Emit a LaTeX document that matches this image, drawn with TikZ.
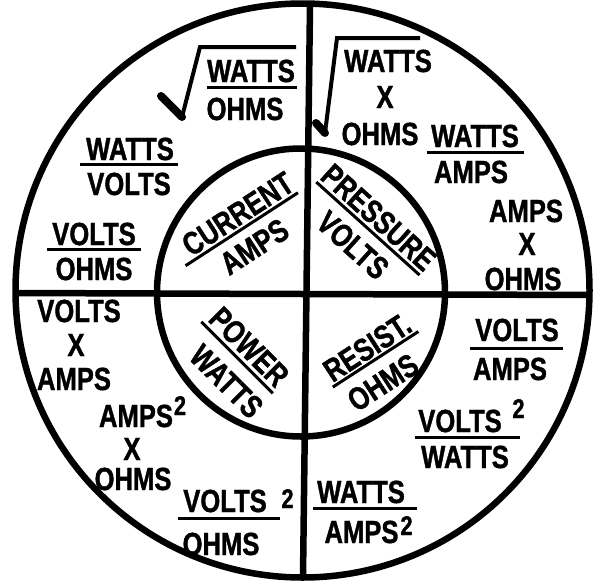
\documentclass[tikz,border=0pt]{standalone}
\usepackage{fontspec}
\newfontfamily\labfont{Liberation Sans}[FakeStretch=0.8, FakeBold=1.2]
\newcommand\labsize{\labfont\bfseries\fontsize{32}{32}\selectfont}
\newcommand\supsize{\labfont\bfseries\fontsize{27}{27}\selectfont}
\tikzset{
  lbl/.style={font=\labsize, inner sep=0pt, anchor=base},
  supx/.style={font=\supsize, inner sep=0pt, anchor=base},
  fbar/.style={line width=3pt},
  ring/.style={line width=6.5pt},
  radthin/.style={line width=4pt, line join=miter},
  radthick/.style={line width=8pt, line cap=round},
}
\begin{document}
\begin{tikzpicture}[x=1pt,y=-1pt]
\useasboundingbox (0,0) rectangle (597,581);
\fill[white] (0,0) rectangle (597,581);
% frame
\coordinate (vt) at (310,4);
\coordinate (vb) at (303,577);
\coordinate (hl) at (15,293);
\coordinate (hr) at (590,295);
\coordinate (oc) at (302.5,290.5);
\coordinate (ic) at (301,292.5);
\draw[ring] (vt) -- (vb);
\draw[ring] (hl) -- (hr);
\draw[ring] (oc) circle[radius=287pt];
\draw[ring] (ic) circle[radius=144pt];

% ---- top-left quadrant
\draw[radthick] (161,96) -- (182,117);
\draw[radthin] (182,117) -- (200,47) -- (296,47);
\node[lbl] (tl1n) at (251,82) {WATTS};
\draw[fbar] (207,87) -- (297,87);
\node[lbl] (tl1d) at (245,120) {OHMS};

\node[lbl] (tl2n) at (130,160) {WATTS};
\draw[fbar] (80,164) -- (178,164);
\node[lbl] (tl2d) at (129,195) {VOLTS};

\node[lbl] (tl3n) at (94,245) {VOLTS};
\draw[fbar] (47,249) -- (141,249);
\node[lbl] (tl3d) at (94,280) {OHMS};

% ---- top-right quadrant
\draw[radthick] (316,123) -- (325,133);
\draw[radthin] (325,133) -- (337,38) -- (420,38);
\node[lbl] (tr1a) at (388,72) {WATTS};
\node[lbl] (tr1b) at (385,108) {X};
\node[lbl] (tr1c) at (380,145) {OHMS};

\node[lbl] (tr2n) at (475,147) {WATTS};
\draw[fbar] (427,152) -- (524,152);
\node[lbl] (tr2d) at (471,183) {AMPS};

\node[lbl] (tr3a) at (526,222) {AMPS};
\node[lbl] (tr3b) at (527,255) {X};
\node[lbl] (tr3c) at (523,290) {OHMS};

% ---- bottom-left quadrant
\node[lbl] (bl1a) at (79,322) {VOLTS};
\node[lbl] (bl1b) at (76,356) {X};
\node[lbl] (bl1c) at (74,390) {AMPS};

\node[lbl] (bl2a) at (136,427) {AMPS};
\node[supx] (bl2s) at (180,415) {2};
\node[lbl] (bl2b) at (132,460) {X};
\node[lbl] (bl2c) at (133,490) {OHMS};

\node[lbl] (bl3n) at (225,512) {VOLTS};
\node[supx] (bl3s) at (287.5,508) {2};
\draw[fbar] (178,518) -- (280,518);
\node[lbl] (bl3d) at (221,555) {OHMS};

% ---- bottom-right quadrant
\node[lbl] (br1n) at (517,341) {VOLTS};
\draw[fbar] (470,348) -- (563,348);
\node[lbl] (br1d) at (510,380) {AMPS};

\node[lbl] (br2n) at (460,432) {VOLTS};
\node[supx] (br2s) at (518.5,418) {2};
\draw[fbar] (415,437) -- (520,437);
\node[lbl] (br2d) at (465,468) {WATTS};

\node[lbl] (br3n) at (361,503) {WATTS};
\draw[fbar] (313,508) -- (417,508);
\node[lbl] (br3d) at (361.5,543) {AMPS};
\node[supx] (br3s) at (406.5,535) {2};

% ---- inner circle
\begin{scope}[shift={(237.5,213.5)}, rotate=33, transform shape]
  \node[lbl] (curr) at (0,11.5) {CURRENT};
  \draw[fbar] (-72,15.5) -- (62,15.5);
  \node[lbl] (amps) at (-4,48) {AMPS};
\end{scope}
\begin{scope}[shift={(379,217)}, rotate=-42, transform shape]
  \node[lbl] (pres) at (0,11.5) {PRESSURE};
  \draw[fbar] (-70,16) -- (69,16);
  \node[lbl] (volts) at (-0.6,49.5) {VOLTS};
\end{scope}
\begin{scope}[shift={(249.5,346.5)}, rotate=-45, transform shape]
  \node[lbl] (powr) at (0,11.5) {POWER};
  \draw[fbar] (-51.5,16.6) -- (49.5,16.6);
  \node[lbl] (watts) at (8.4,52) {WATTS};
\end{scope}
\begin{scope}[shift={(367,347)}, rotate=33, transform shape]
  \node[lbl] (resi) at (0,11.5) {RESIST.};
  \draw[fbar] (-50.5,15) -- (51.5,15);
  \node[lbl] (ohms) at (-6,49.5) {OHMS};
\end{scope}
\end{tikzpicture}
\end{document}
